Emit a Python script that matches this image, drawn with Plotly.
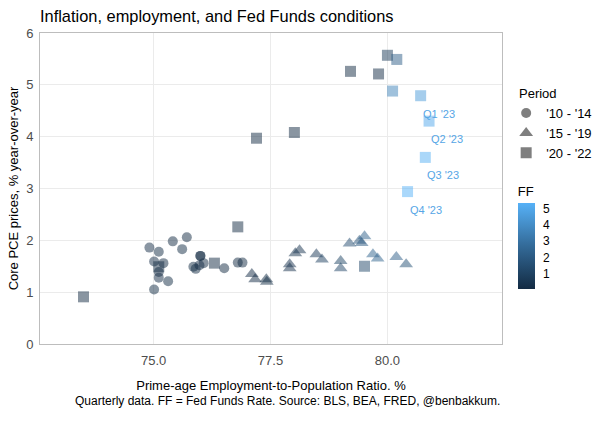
import plotly.graph_objects as go

# ---- data ----
# Period '10 - '14 (circles)
epop_10_14 = [75.11, 74.91, 75.01, 75.11, 75.01, 75.11, 75.21, 75.41, 75.71, 75.61,
              75.85, 75.90, 75.31, 75.98, 76.00, 76.00, 76.07, 76.51, 76.80, 76.90]
pce_10_14 = [1.78, 1.86, 1.59, 1.28, 1.05, 1.39, 1.56, 1.98, 2.06, 1.83,
             1.49, 1.45, 1.21, 1.52, 1.70, 1.70, 1.56, 1.46, 1.57, 1.57]
ff_10_14 = [0.13, 0.19, 0.19, 0.19, 0.16, 0.09, 0.08, 0.07, 0.10, 0.15,
            0.14, 0.16, 0.14, 0.12, 0.08, 0.09, 0.07, 0.09, 0.09, 0.10]

# Period '15 - '19 (triangles)
epop_15_19 = [77.10, 77.17, 77.41, 77.42, 77.91, 77.91, 78.03, 78.12, 78.48, 78.60,
              79.00, 79.00, 79.19, 79.40, 79.45, 79.51, 79.69, 79.79, 80.19, 80.40]
pce_15_19 = [1.35, 1.25, 1.25, 1.20, 1.54, 1.46, 1.75, 1.81, 1.73, 1.63,
             1.60, 1.46, 1.94, 1.99, 1.95, 2.08, 1.73, 1.65, 1.68, 1.54]
ff_15_19 = [0.11, 0.12, 0.13, 0.16, 0.36, 0.37, 0.39, 0.45, 0.70, 0.95,
            1.15, 1.20, 1.45, 1.74, 1.92, 2.22, 2.40, 2.40, 2.19, 1.64]

# Period '20 - '22 (squares), incl. 2023 quarters
epop_20_22 = [79.51, 73.50, 75.11, 76.30, 76.80, 77.20, 78.01, 79.21, 79.81, 80.00,
              80.20, 80.11, 80.71, 80.89, 80.81, 80.43]
pce_20_22 = [1.50, 0.91, 1.49, 1.56, 2.26, 3.97, 4.08, 5.26, 5.21, 5.57,
             5.49, 4.88, 4.79, 4.30, 3.60, 2.94]
ff_20_22 = [1.26, 0.06, 0.09, 0.09, 0.08, 0.07, 0.09, 0.08, 0.12, 0.77,
            2.19, 3.65, 4.52, 4.99, 5.26, 5.33]
labels_20_22 = ["", "", "", "", "", "", "", "", "", "", "", "",
                "Q1 '23", "Q2 '23", "Q3 '23", "Q4 '23"]

period_names = ["'10 - '14", "'15 - '19", "'20 - '22"]
x_ticks = [75.0, 77.5, 80.0]
x_tick_text = ["75.0", "77.5", "80.0"]
y_ticks = [0, 1, 2, 3, 4, 5, 6]
ff_ticks = [1, 2, 3, 4, 5]

all_ff = ff_10_14 + ff_15_19 + ff_20_22
cmin, cmax = min(all_ff), max(all_ff)
colorscale = [[0, "#132B43"], [0.5, "#336A98"], [1, "#56B1F7"]]

FONT = "Liberation Sans, Arial"
fig = go.Figure()

groups = [
    (epop_10_14, pce_10_14, ff_10_14, "circle", 10),
    (epop_15_19, pce_15_19, ff_15_19, "triangle-up", 12),
    (epop_20_22, pce_20_22, ff_20_22, "square", 11),
]
for (xs, ys, cs, sym, sz) in groups:
    fig.add_trace(go.Scatter(
        x=xs, y=ys, mode="markers", showlegend=False, hoverinfo="skip",
        marker=dict(symbol=sym, size=sz, color=cs, coloraxis="coloraxis",
                    opacity=0.5, line=dict(width=0)),
    ))

# legend proxies
for name, (_, _, _, sym, sz) in zip(period_names, groups):
    fig.add_trace(go.Scatter(
        x=[None], y=[None], mode="markers", name=name,
        marker=dict(symbol=sym, size=sz, color="#7f7f7f", line=dict(width=0)),
    ))

# quarter labels
for xv, yv, lab in zip(epop_20_22, pce_20_22, labels_20_22):
    if lab:
        fig.add_annotation(x=xv, y=yv, text=lab, showarrow=False,
                           xshift=18, yshift=-18,
                           font=dict(size=11, color="#56A6E6", family=FONT))

fig.update_layout(
    width=602, height=421,
    margin=dict(l=40, r=100, t=33, b=77, autoexpand=False),
    paper_bgcolor="white", plot_bgcolor="white",
    font=dict(family=FONT, size=13, color="black"),
    title=dict(text="Inflation, employment, and Fed Funds conditions",
               x=40 / 602, xanchor="left", y=1 - 16 / 421, yanchor="middle",
               pad=dict(l=0, r=0, t=0, b=0),
               font=dict(size=16.4, color="black")),
    xaxis=dict(range=[72.57, 82.45], tickvals=x_ticks, ticktext=x_tick_text,
               showgrid=True, gridcolor="#ebebeb", gridwidth=1,
               showline=True, linecolor="#bdbdbd", linewidth=1, mirror=True,
               ticks="", automargin=False, ticklabelstandoff=4,
               tickfont=dict(size=13, color="#4d4d4d"), zeroline=False,
               title=dict(text="Prime-age Employment-to-Population Ratio. %",
                          font=dict(size=13, color="black"), standoff=14)),
    yaxis=dict(range=[0, 6], tickvals=y_ticks,
               showgrid=True, gridcolor="#ebebeb", gridwidth=1,
               showline=True, linecolor="#bdbdbd", linewidth=1, mirror=True,
               ticks="", automargin=False, ticklabelstandoff=3,
               tickfont=dict(size=13, color="#4d4d4d"), zeroline=False,
               title=dict(text="Core PCE prices, % year-over-year",
                          font=dict(size=13, color="black"), standoff=4)),
    coloraxis=dict(
        cmin=cmin, cmax=cmax, colorscale=colorscale,
        colorbar=dict(
            title=dict(text="FF", side="top", font=dict(size=13, color="black")),
            tickvals=ff_ticks, ticks="outside", ticklen=6, tickcolor="white",
            tickfont=dict(size=12, color="black"),
            thickness=17, thicknessmode="pixels",
            len=106, lenmode="pixels",
            x=1.034, xanchor="left", xpad=0,
            y=(344 - 289) / 311, yanchor="bottom", ypad=0,
            outlinewidth=0,
        ),
    ),
    legend=dict(
        title=dict(text="\u00a0\u00a0\u00a0Period", font=dict(size=13, color="black")),
        x=1.009, xanchor="left", y=0.845, yanchor="top",
        font=dict(size=13, color="black"), bgcolor="rgba(0,0,0,0)",
        tracegroupgap=0, itemwidth=30,
    ),
)

fig.add_annotation(
    xref="paper", yref="paper", x=1, y=-0.183, xanchor="right", yanchor="middle",
    text="Quarterly data. FF = Fed Funds Rate. Source: BLS, BEA, FRED, @benbakkum.",
    showarrow=False, font=dict(size=12, color="black"),
)

fig.write_html("out.html", config={"displayModeBar": False},
               post_script="document.body.style.margin='0';document.body.style.padding='0';")
